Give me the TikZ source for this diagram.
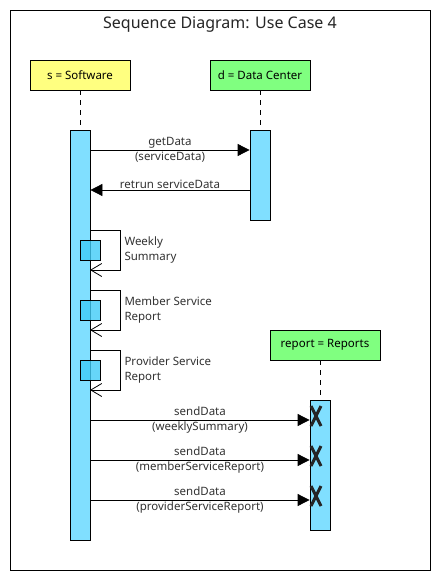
\documentclass[tikz,border=0pt]{standalone}
\usepackage{fontspec}
\setmainfont{Noto Sans}
\usetikzlibrary{arrows.meta}

\definecolor{lifeyellow}{HTML}{FFFF80}
\definecolor{lifegreen}{HTML}{80FF80}
\definecolor{barblue}{HTML}{80DFFF}
\definecolor{callblue}{HTML}{40CCF8}

\tikzset{
  lifebox/.style={draw, thick, minimum width=100pt, minimum height=30pt, inner sep=0pt},
  actbar/.style={draw, thick, fill=barblue, minimum width=20pt, inner sep=0pt},
  callbox/.style={draw, thick, fill=callblue, fill opacity=0.8, draw opacity=1, minimum width=20pt, minimum height=20pt, inner sep=0pt},
  lifeline/.style={draw, thick, dash pattern=on 5pt off 5pt},
  msg/.style={thick, -{Triangle[length=12pt,width=12pt]}},
  selfmsg/.style={thick, -{Straight Barb[length=11pt,width=13pt]}},
  lbl/.style={font=\fontsize{11.5}{15}\selectfont, color=black!80, align=center},
  killmark/.style={line width=3pt, black!85}
}

\begin{document}
\begin{tikzpicture}[x=1pt, y=-1pt]
    \useasboundingbox[fill=white] (0,0) rectangle (440,580);

    % Frame and title
    \node[draw, thick, minimum width=420pt, minimum height=560pt, inner sep=0pt] (frame) at (220,290) {};
    \node[font=\fontsize{16}{19}\selectfont, color=black!85] (title) at (220,25) {Sequence Diagram: Use Case 4};

    % Lifelines
    \node[lifebox, fill=lifeyellow] (s) at (80,75) {\fontsize{11.5}{14}\selectfont s = Software};
    \node[lifebox, fill=lifegreen] (d) at (260,75) {\fontsize{11.5}{14}\selectfont d = Data Center};
    \node[lifebox, fill=lifegreen, minimum width=110pt] (r) at (325,345) {\fontsize{11.5}{14}\selectfont report = Reports};

    % Activation bars
    \node[actbar, minimum height=410pt] (sa) at (80,335) {};
    \node[actbar, minimum height=90pt] (da) at (260,175) {};
    \node[actbar, minimum height=130pt] (ra) at (320,465) {};

    \draw[lifeline] (s) -- (sa);
    \draw[lifeline] (d) -- (da);
    \draw[lifeline] (r.south -| ra) -- (ra);

    % Data center calls
    \draw[msg] (sa.east |- 0,150) -- (da.west |- 0,150);
    \node[lbl] (m1) at (170,150) {getData\\(serviceData)};
    \draw[msg] (da.west |- 0,190) -- (sa.east |- 0,190);
    \node[lbl, anchor=south] (m2) at (170,192) {retrun serviceData};

    % Self calls
    \foreach \y/\name/\txt in {230/ws/Weekly\\Summary, 290/ms/Member Service\\Report, 350/ps/Provider Service\\Report} {
      \coordinate (\name a) at (90,\y);
      \coordinate (\name b) at (90,\y+40);
      \node[callbox] (\name) at (90,\y+20) {};
      \draw[selfmsg] (\name a) -- ++(30,0) |- (\name b);
      \node[lbl, anchor=west, align=left] (\name t) at (121,\y+20) {\txt};
    }

    % Send to reports
    \foreach \y/\name/\txt in {420/sw/weeklySummary, 460/sm/memberServiceReport, 500/sp/providerServiceReport} {
      \draw[msg] (sa.east |- 0,\y) -- (ra.west |- 0,\y);
      \node[lbl] (\name) at (200,\y) {sendData\\(\txt)};
      \coordinate (\name x) at (316,\y-4);
      \draw[killmark] ([shift={(-5,-10)}]\name x) -- ([shift={(5,10)}]\name x)
                      ([shift={(5,-10)}]\name x) -- ([shift={(-5,10)}]\name x);
    }
\end{tikzpicture}
\end{document}
